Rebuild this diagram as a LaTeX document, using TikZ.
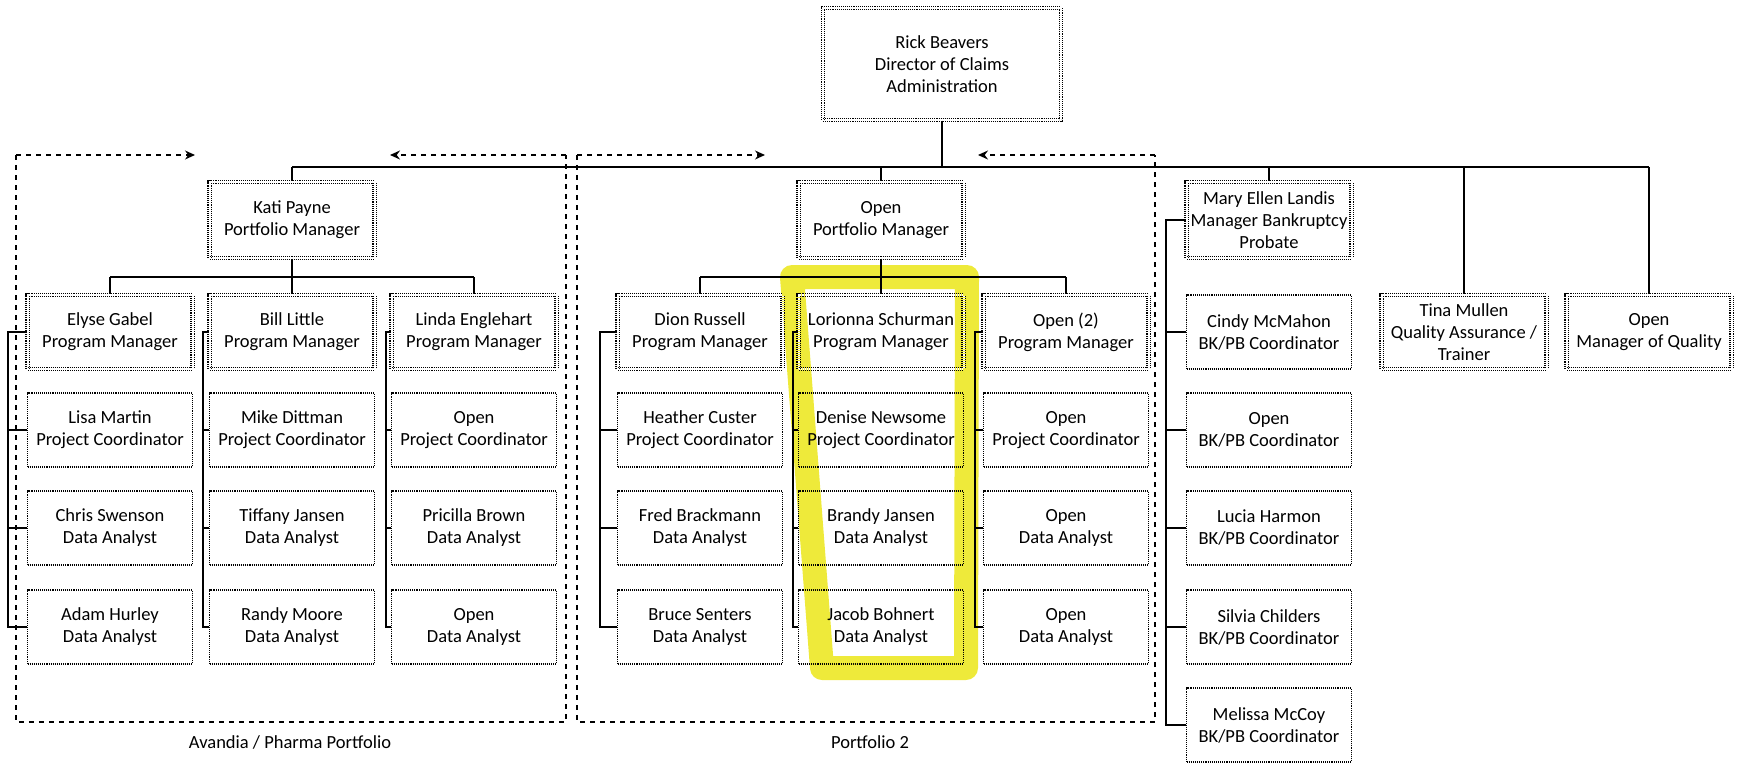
\documentclass[tikz,border=0pt]{standalone}
\usepackage{fontspec}
\setmainfont{Carlito}
\usetikzlibrary{arrows.meta}
\definecolor{hl}{RGB}{238,234,58}
\begin{document}
\begin{tikzpicture}[x=1pt,y=-1pt,
  box/.style={draw=black, densely dotted, line width=1.1pt, minimum width=165pt, minimum height=74pt, inner sep=0pt, align=center, font=\fontsize{18.5}{22}\selectfont, text=black},
  dbox/.style={box, double, double distance=2pt},
  conn/.style={line width=1.1pt, black},
  grp/.style={line width=1.4pt, dash pattern=on 5pt off 5pt, black},
  grptip/.style={grp, -{Stealth[length=10pt,width=9pt]}},
  lbl/.style={font=\fontsize{18.5}{22}\selectfont, inner sep=0pt},
  hilite/.style={draw=hl, line width=24pt, line join=round}]
\useasboundingbox (0,0) rectangle (1743,765);

% highlight
\draw[hilite] (792,277) -- (967,277) -- (966,668) -- (822,668) -- cycle;

% coordinates
\coordinate (bus) at (0,167);
\coordinate (sub) at (0,277);
\coordinate (c1) at (8,0);
\coordinate (c2) at (203,0);
\coordinate (c3) at (386,0);
\coordinate (c4) at (600,0);
\coordinate (c5) at (793,0);
\coordinate (c6) at (975,0);
\coordinate (c7) at (1166,0);

% top
\node[dbox, minimum width=238pt, minimum height=112pt] (rick) at (942,64) {Rick Beavers\\Director of Claims\\Administration};

% second level
\node[dbox, minimum height=76pt] (kati) at (292,220) {Kati Payne\\Portfolio Manager};
\node[dbox, minimum height=76pt] (oppm) at (881,220) {Open\\Portfolio Manager};
\node[dbox, minimum height=76pt] (mel) at (1269,220) {Mary Ellen Landis\\Manager Bankruptcy\\Probate};

% program manager row
\node[dbox] (elyse) at (110,332) {Elyse Gabel\\Program Manager};
\node[dbox] (bill) at (292,332) {Bill Little\\Program Manager};
\node[dbox] (linda) at (474,332) {Linda Englehart\\Program Manager};
\node[dbox] (dion) at (700,332) {Dion Russell\\Program Manager};
\node[dbox] (lori) at (881,332) {Lorionna Schurman\\Program Manager};
\node[dbox] (open2) at (1066,332) {Open (2)\\Program Manager};
\node[box] (cindy) at (1269,332) {Cindy McMahon\\BK/PB Coordinator};
\node[dbox] (tina) at (1464,332) {Tina Mullen\\Quality Assurance /\\Trainer};
\node[dbox] (oq) at (1649,332) {Open\\Manager of Quality};

% project coordinator row
\node[box] (lisa) at (110,430) {Lisa Martin\\Project Coordinator};
\node[box] (mike) at (292,430) {Mike Dittman\\Project Coordinator};
\node[box] (opc1) at (474,430) {Open\\Project Coordinator};
\node[box] (heather) at (700,430) {Heather Custer\\Project Coordinator};
\node[box] (denise) at (881,430) {Denise Newsome\\Project Coordinator};
\node[box] (opc2) at (1066,430) {Open\\Project Coordinator};
\node[box] (obk) at (1269,430) {Open\\BK/PB Coordinator};

% data analyst row 1
\node[box] (chris) at (110,528) {Chris Swenson\\Data Analyst};
\node[box] (tiff) at (292,528) {Tiffany Jansen\\Data Analyst};
\node[box] (pric) at (474,528) {Pricilla Brown\\Data Analyst};
\node[box] (fred) at (700,528) {Fred Brackmann\\Data Analyst};
\node[box] (brandy) at (881,528) {Brandy Jansen\\Data Analyst};
\node[box] (oda1) at (1066,528) {Open\\Data Analyst};
\node[box] (lucia) at (1269,528) {Lucia Harmon\\BK/PB Coordinator};

% data analyst row 2
\node[box] (adam) at (110,627) {Adam Hurley\\Data Analyst};
\node[box] (randy) at (292,627) {Randy Moore\\Data Analyst};
\node[box] (oda2) at (474,627) {Open\\Data Analyst};
\node[box] (bruce) at (700,627) {Bruce Senters\\Data Analyst};
\node[box] (jacob) at (881,627) {Jacob Bohnert\\Data Analyst};
\node[box] (oda3) at (1066,627) {Open\\Data Analyst};
\node[box] (silvia) at (1269,627) {Silvia Childers\\BK/PB Coordinator};

% last
\node[box] (melissa) at (1269,725) {Melissa McCoy\\BK/PB Coordinator};

% main bus
\draw[conn] (rick.south) -- (rick.south |- bus);
\draw[conn] (kati.north |- bus) -- (oq.north |- bus);
\foreach \n in {kati,oppm,mel,tina,oq}
  \draw[conn] (\n.north |- bus) -- (\n.north);

% sub buses
\draw[conn] (kati.south) -- (kati.south |- sub);
\draw[conn] (elyse.north |- sub) -- (linda.north |- sub);
\foreach \n in {elyse,bill,linda}
  \draw[conn] (\n.north |- sub) -- (\n.north);
\draw[conn] (oppm.south) -- (oppm.south |- sub);
\draw[conn] (dion.north |- sub) -- (open2.north |- sub);
\foreach \n in {dion,lori,open2}
  \draw[conn] (\n.north |- sub) -- (\n.north);

% column connectors
\draw[conn] (elyse.west) -- (elyse.west -| c1) |- (adam.west);
\draw[conn] (bill.west) -- (bill.west -| c2) |- (randy.west);
\draw[conn] (linda.west) -- (linda.west -| c3) |- (oda2.west);
\draw[conn] (dion.west) -- (dion.west -| c4) |- (bruce.west);
\draw[conn] (lori.west) -- (lori.west -| c5) |- (jacob.west);
\draw[conn] (open2.west) -- (open2.west -| c6) |- (oda3.west);
\draw[conn] (mel.west) -- (mel.west -| c7) |- (melissa.west);
\foreach \n/\c in {lisa/c1,chris/c1,mike/c2,tiff/c2,opc1/c3,pric/c3,heather/c4,fred/c4,denise/c5,brandy/c5,opc2/c6,oda1/c6,cindy/c7,obk/c7,lucia/c7,silvia/c7}
  \draw[conn] (\n.west -| \c) -- (\n.west);

% group boxes
\coordinate (atl) at (16,155);
\coordinate (atr) at (566,155);
\coordinate (abl) at (16,722);
\coordinate (abr) at (566,722);
\coordinate (aa1) at (195,155);
\coordinate (aa2) at (390,155);
\draw[grp] (atl) -- (abl) -- (abr) -- (atr);
\draw[grptip] (atl) -- (aa1);
\draw[grptip] (atr) -- (aa2);
\node[lbl] (alab) at (290,742) {Avandia / Pharma Portfolio};

\coordinate (ptl) at (577,155);
\coordinate (ptr) at (1155,155);
\coordinate (pbl) at (577,722);
\coordinate (pbr) at (1155,722);
\coordinate (pa1) at (765,155);
\coordinate (pa2) at (978,155);
\draw[grp] (ptl) -- (pbl) -- (pbr) -- (ptr);
\draw[grptip] (ptl) -- (pa1);
\draw[grptip] (ptr) -- (pa2);
\node[lbl] (plab) at (870,742) {Portfolio 2};
\end{tikzpicture}
\end{document}
